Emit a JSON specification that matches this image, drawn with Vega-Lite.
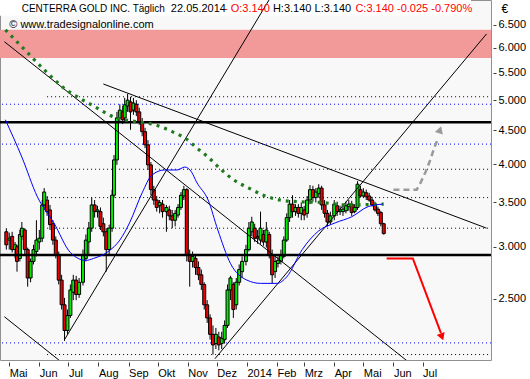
{
  "$schema": "https://vega.github.io/schema/vega-lite/v6.json",
  "width": 491,
  "height": 360,
  "autosize": {"type": "none"},
  "padding": {"left": 0, "top": 0, "right": 39, "bottom": 19},
  "background": "white",
  "config": {
    "view": {"fill": "#f8f8f8", "stroke": "#909090"},
    "text": {"font": "Liberation Sans"},
    "axis": {"labelFont": "Liberation Sans", "titleFont": "Liberation Sans", "labelOverlap": false},
    "axisX": {"labelOverlap": false},
    "axisTemporal": {"labelOverlap": false}
  },
  "datasets": {
    "ohlc": [
      {"d":"2013-04-28","o":3.16,"h":3.20,"l":2.97,"c":3.02},
      {"d":"2013-05-01","o":3.07,"h":3.15,"l":2.97,"c":3.09},
      {"d":"2013-05-04","o":3.11,"h":3.16,"l":2.94,"c":2.97},
      {"d":"2013-05-07","o":2.97,"h":3.05,"l":2.88,"c":3.02},
      {"d":"2013-05-09","o":3.00,"h":3.02,"l":2.75,"c":2.85},
      {"d":"2013-05-12","o":2.88,"h":3.18,"l":2.85,"c":3.13},
      {"d":"2013-05-14","o":3.11,"h":3.27,"l":3.07,"c":3.20},
      {"d":"2013-05-17","o":3.18,"h":3.20,"l":2.91,"c":2.97},
      {"d":"2013-05-20","o":2.97,"h":2.99,"l":2.61,"c":2.69},
      {"d":"2013-05-23","o":2.69,"h":2.88,"l":2.65,"c":2.85},
      {"d":"2013-05-26","o":2.85,"h":3.02,"l":2.82,"c":2.97},
      {"d":"2013-05-29","o":2.95,"h":3.29,"l":2.90,"c":3.07},
      {"d":"2013-06-01","o":3.05,"h":3.18,"l":2.97,"c":3.09},
      {"d":"2013-06-04","o":3.09,"h":3.53,"l":3.05,"c":3.47},
      {"d":"2013-06-06","o":3.47,"h":3.68,"l":3.41,"c":3.63},
      {"d":"2013-06-09","o":3.53,"h":3.58,"l":3.34,"c":3.39},
      {"d":"2013-06-12","o":3.41,"h":3.47,"l":3.18,"c":3.24},
      {"d":"2013-06-15","o":3.25,"h":3.29,"l":3.02,"c":3.07},
      {"d":"2013-06-18","o":3.07,"h":3.11,"l":2.88,"c":2.91},
      {"d":"2013-06-21","o":2.91,"h":2.95,"l":2.63,"c":2.67},
      {"d":"2013-06-24","o":2.67,"h":2.72,"l":2.41,"c":2.45},
      {"d":"2013-06-27","o":2.45,"h":2.51,"l":2.16,"c":2.24},
      {"d":"2013-06-30","o":2.24,"h":2.41,"l":2.21,"c":2.36},
      {"d":"2013-07-03","o":2.36,"h":2.63,"l":2.34,"c":2.58},
      {"d":"2013-07-06","o":2.56,"h":2.72,"l":2.49,"c":2.67},
      {"d":"2013-07-09","o":2.67,"h":2.71,"l":2.49,"c":2.54},
      {"d":"2013-07-12","o":2.54,"h":2.69,"l":2.51,"c":2.65},
      {"d":"2013-07-16","o":2.65,"h":2.97,"l":2.62,"c":2.91},
      {"d":"2013-07-19","o":2.88,"h":3.13,"l":2.85,"c":3.07},
      {"d":"2013-07-22","o":3.05,"h":3.27,"l":2.91,"c":3.20},
      {"d":"2013-07-25","o":3.20,"h":3.56,"l":3.16,"c":3.47},
      {"d":"2013-07-28","o":3.47,"h":3.53,"l":3.32,"c":3.39},
      {"d":"2013-07-31","o":3.39,"h":3.46,"l":3.32,"c":3.41},
      {"d":"2013-08-03","o":3.39,"h":3.44,"l":3.18,"c":3.22},
      {"d":"2013-08-06","o":3.25,"h":3.32,"l":3.11,"c":3.16},
      {"d":"2013-08-09","o":3.16,"h":3.20,"l":2.75,"c":2.97},
      {"d":"2013-08-12","o":2.97,"h":3.24,"l":2.91,"c":3.20},
      {"d":"2013-08-15","o":3.20,"h":3.66,"l":3.16,"c":3.59},
      {"d":"2013-08-17","o":3.59,"h":4.13,"l":3.56,"c":4.06},
      {"d":"2013-08-20","o":4.06,"h":4.80,"l":3.99,"c":4.70},
      {"d":"2013-08-23","o":4.70,"h":4.93,"l":4.63,"c":4.83},
      {"d":"2013-08-26","o":4.80,"h":4.90,"l":4.60,"c":4.67},
      {"d":"2013-08-28","o":4.70,"h":5.04,"l":4.63,"c":4.92},
      {"d":"2013-08-31","o":4.90,"h":5.11,"l":4.80,"c":5.00},
      {"d":"2013-09-03","o":4.97,"h":5.06,"l":4.51,"c":4.80},
      {"d":"2013-09-06","o":4.83,"h":5.04,"l":4.75,"c":4.95},
      {"d":"2013-09-09","o":4.93,"h":5.00,"l":4.73,"c":4.80},
      {"d":"2013-09-12","o":4.80,"h":4.87,"l":4.59,"c":4.63},
      {"d":"2013-09-15","o":4.63,"h":4.70,"l":4.41,"c":4.48},
      {"d":"2013-09-18","o":4.48,"h":4.54,"l":4.23,"c":4.28},
      {"d":"2013-09-21","o":4.28,"h":4.35,"l":3.92,"c":3.99},
      {"d":"2013-09-24","o":3.99,"h":4.03,"l":3.59,"c":3.66},
      {"d":"2013-09-27","o":3.66,"h":3.71,"l":3.47,"c":3.53},
      {"d":"2013-09-30","o":3.53,"h":3.58,"l":3.39,"c":3.44},
      {"d":"2013-10-03","o":3.46,"h":3.53,"l":3.37,"c":3.50},
      {"d":"2013-10-06","o":3.48,"h":3.53,"l":3.32,"c":3.39},
      {"d":"2013-10-10","o":3.39,"h":3.47,"l":3.16,"c":3.44},
      {"d":"2013-10-13","o":3.41,"h":3.46,"l":3.29,"c":3.34},
      {"d":"2013-10-16","o":3.34,"h":3.41,"l":3.20,"c":3.29},
      {"d":"2013-10-19","o":3.29,"h":3.41,"l":3.22,"c":3.37},
      {"d":"2013-10-22","o":3.35,"h":3.48,"l":3.32,"c":3.44},
      {"d":"2013-10-25","o":3.44,"h":3.63,"l":3.41,"c":3.59},
      {"d":"2013-10-28","o":3.58,"h":3.71,"l":3.53,"c":3.66},
      {"d":"2013-10-31","o":3.66,"h":3.68,"l":2.85,"c":2.91},
      {"d":"2013-11-03","o":2.91,"h":2.97,"l":2.61,"c":2.85},
      {"d":"2013-11-06","o":2.85,"h":2.95,"l":2.79,"c":2.90},
      {"d":"2013-11-09","o":2.88,"h":2.91,"l":2.72,"c":2.79},
      {"d":"2013-11-12","o":2.79,"h":2.85,"l":2.67,"c":2.72},
      {"d":"2013-11-15","o":2.72,"h":2.77,"l":2.58,"c":2.63},
      {"d":"2013-11-18","o":2.63,"h":2.65,"l":2.41,"c":2.45},
      {"d":"2013-11-21","o":2.45,"h":2.49,"l":2.30,"c":2.34},
      {"d":"2013-11-24","o":2.34,"h":2.37,"l":2.17,"c":2.21},
      {"d":"2013-11-27","o":2.21,"h":2.28,"l":2.06,"c":2.13},
      {"d":"2013-11-30","o":2.14,"h":2.26,"l":2.10,"c":2.21},
      {"d":"2013-12-03","o":2.19,"h":2.23,"l":2.09,"c":2.13},
      {"d":"2013-12-06","o":2.14,"h":2.23,"l":2.10,"c":2.18},
      {"d":"2013-12-09","o":2.17,"h":2.32,"l":2.14,"c":2.28},
      {"d":"2013-12-12","o":2.28,"h":2.63,"l":2.26,"c":2.58},
      {"d":"2013-12-15","o":2.58,"h":2.71,"l":2.49,"c":2.69},
      {"d":"2013-12-18","o":2.63,"h":2.65,"l":2.34,"c":2.41},
      {"d":"2013-12-21","o":2.45,"h":2.69,"l":2.41,"c":2.65},
      {"d":"2013-12-24","o":2.65,"h":2.82,"l":2.62,"c":2.77},
      {"d":"2013-12-27","o":2.75,"h":2.90,"l":2.69,"c":2.85},
      {"d":"2013-12-31","o":2.85,"h":3.02,"l":2.81,"c":2.97},
      {"d":"2014-01-03","o":2.97,"h":3.27,"l":2.95,"c":3.20},
      {"d":"2014-01-06","o":3.16,"h":3.33,"l":3.11,"c":3.27},
      {"d":"2014-01-09","o":3.20,"h":3.25,"l":3.05,"c":3.09},
      {"d":"2014-01-12","o":3.11,"h":3.18,"l":3.03,"c":3.09},
      {"d":"2014-01-15","o":3.07,"h":3.39,"l":3.03,"c":3.20},
      {"d":"2014-01-18","o":3.13,"h":3.18,"l":3.01,"c":3.05},
      {"d":"2014-01-21","o":3.05,"h":3.27,"l":2.99,"c":3.18},
      {"d":"2014-01-24","o":3.13,"h":3.16,"l":2.88,"c":2.91},
      {"d":"2014-01-27","o":2.91,"h":2.97,"l":2.64,"c":2.72},
      {"d":"2014-01-30","o":2.75,"h":2.91,"l":2.69,"c":2.85},
      {"d":"2014-02-02","o":2.83,"h":2.90,"l":2.79,"c":2.86},
      {"d":"2014-02-05","o":2.85,"h":2.97,"l":2.82,"c":2.91},
      {"d":"2014-02-08","o":2.90,"h":3.11,"l":2.88,"c":3.07},
      {"d":"2014-02-11","o":3.07,"h":3.37,"l":3.05,"c":3.32},
      {"d":"2014-02-14","o":3.32,"h":3.53,"l":3.27,"c":3.48},
      {"d":"2014-02-17","o":3.48,"h":3.59,"l":3.32,"c":3.39},
      {"d":"2014-02-20","o":3.39,"h":3.48,"l":3.34,"c":3.44},
      {"d":"2014-02-23","o":3.44,"h":3.48,"l":3.32,"c":3.37},
      {"d":"2014-02-26","o":3.37,"h":3.50,"l":3.29,"c":3.44},
      {"d":"2014-03-01","o":3.41,"h":3.46,"l":3.29,"c":3.35},
      {"d":"2014-03-04","o":3.37,"h":3.58,"l":3.32,"c":3.53},
      {"d":"2014-03-07","o":3.53,"h":3.72,"l":3.48,"c":3.66},
      {"d":"2014-03-10","o":3.66,"h":3.71,"l":3.51,"c":3.56},
      {"d":"2014-03-13","o":3.56,"h":3.68,"l":3.50,"c":3.63},
      {"d":"2014-03-16","o":3.61,"h":3.73,"l":3.56,"c":3.68},
      {"d":"2014-03-19","o":3.68,"h":3.71,"l":3.41,"c":3.47},
      {"d":"2014-03-22","o":3.47,"h":3.53,"l":3.32,"c":3.37},
      {"d":"2014-03-25","o":3.37,"h":3.41,"l":3.22,"c":3.27},
      {"d":"2014-03-28","o":3.27,"h":3.39,"l":3.24,"c":3.34},
      {"d":"2014-04-01","o":3.34,"h":3.53,"l":3.29,"c":3.48},
      {"d":"2014-04-04","o":3.46,"h":3.51,"l":3.34,"c":3.39},
      {"d":"2014-04-07","o":3.39,"h":3.46,"l":3.35,"c":3.41},
      {"d":"2014-04-10","o":3.39,"h":3.46,"l":3.34,"c":3.42},
      {"d":"2014-04-13","o":3.40,"h":3.51,"l":3.37,"c":3.46},
      {"d":"2014-04-16","o":3.45,"h":3.53,"l":3.40,"c":3.48},
      {"d":"2014-04-19","o":3.48,"h":3.52,"l":3.34,"c":3.38},
      {"d":"2014-04-22","o":3.39,"h":3.48,"l":3.37,"c":3.44},
      {"d":"2014-04-25","o":3.44,"h":3.77,"l":3.41,"c":3.73},
      {"d":"2014-04-28","o":3.66,"h":3.71,"l":3.56,"c":3.58},
      {"d":"2014-05-01","o":3.58,"h":3.68,"l":3.56,"c":3.63},
      {"d":"2014-05-04","o":3.62,"h":3.66,"l":3.53,"c":3.57},
      {"d":"2014-05-07","o":3.58,"h":3.62,"l":3.51,"c":3.53},
      {"d":"2014-05-10","o":3.53,"h":3.57,"l":3.45,"c":3.47},
      {"d":"2014-05-13","o":3.48,"h":3.51,"l":3.39,"c":3.41},
      {"d":"2014-05-16","o":3.42,"h":3.45,"l":3.34,"c":3.37},
      {"d":"2014-05-19","o":3.38,"h":3.40,"l":3.22,"c":3.25},
      {"d":"2014-05-22","o":3.25,"h":3.26,"l":3.13,"c":3.14}
    ],
    "ma200": [
      {"d":"2013-04-27","p":6.39},{"d":"2013-05-17","p":5.96},{"d":"2013-06-06","p":5.56},
      {"d":"2013-06-29","p":5.18},{"d":"2013-07-12","p":5.04},{"d":"2013-07-27","p":4.90},
      {"d":"2013-08-16","p":4.72},{"d":"2013-09-08","p":4.64},{"d":"2013-09-28","p":4.59},
      {"d":"2013-10-16","p":4.48},{"d":"2013-11-02","p":4.34},{"d":"2013-11-08","p":4.26},
      {"d":"2013-11-22","p":4.10},{"d":"2013-12-05","p":3.93},{"d":"2013-12-18","p":3.79},
      {"d":"2014-01-03","p":3.68},{"d":"2014-01-18","p":3.59},{"d":"2014-02-04","p":3.53},
      {"d":"2014-02-22","p":3.51},{"d":"2014-03-19","p":3.50},{"d":"2014-04-13","p":3.47},
      {"d":"2014-05-22","p":3.48}
    ],
    "ma50": [
      {"d":"2013-04-27","p":4.67},{"d":"2013-05-14","p":4.10},{"d":"2013-05-30","p":3.57},
      {"d":"2013-06-16","p":3.26},{"d":"2013-07-03","p":2.94},{"d":"2013-07-19","p":2.86},
      {"d":"2013-07-27","p":2.88},{"d":"2013-08-11","p":2.95},{"d":"2013-08-23","p":3.07},
      {"d":"2013-09-02","p":3.26},{"d":"2013-09-15","p":3.62},{"d":"2013-09-25","p":3.85},
      {"d":"2013-10-08","p":3.92},{"d":"2013-10-21","p":3.92},{"d":"2013-10-29","p":3.96},
      {"d":"2013-11-05","p":3.89},{"d":"2013-11-10","p":3.76},{"d":"2013-11-22","p":3.53},
      {"d":"2013-12-02","p":3.18},{"d":"2013-12-15","p":2.83},{"d":"2014-01-01","p":2.67},
      {"d":"2014-01-15","p":2.64},{"d":"2014-02-01","p":2.64},{"d":"2014-02-11","p":2.70},
      {"d":"2014-02-27","p":2.97},{"d":"2014-03-16","p":3.17},{"d":"2014-04-02","p":3.26},
      {"d":"2014-04-19","p":3.33},{"d":"2014-05-06","p":3.45},{"d":"2014-05-21","p":3.48}
    ],
    "trend": [
      {"id":"A","d":"2013-04-26","p":6.13},{"id":"A","d":"2014-06-16","p":2.01},
      {"id":"B","d":"2013-08-06","p":5.29},{"id":"B","d":"2014-09-05","p":3.20},
      {"id":"C","d":"2013-06-27","p":2.17},{"id":"C","d":"2014-01-26","p":7.18},
      {"id":"D","d":"2013-11-29","p":2.03},{"id":"D","d":"2014-09-05","p":6.30},
      {"id":"E","d":"2013-04-26","p":2.35},{"id":"E","d":"2013-06-25","p":2.00}
    ],
    "levelsDotted": [{"p":5.06},{"p":3.93},{"p":3.56},{"p":3.20},{"p":2.06}],
    "levelsBlue": [{"p":4.93},{"p":4.29},{"p":2.145}],
    "levelsThick": [{"p":4.63},{"p":2.914}],
    "upPath": [
      {"d":"2014-06-01","p":3.66},{"d":"2014-06-25","p":3.66},{"d":"2014-06-29","p":3.75},
      {"d":"2014-07-04","p":3.89},{"d":"2014-07-09","p":4.06},{"d":"2014-07-13","p":4.23},
      {"d":"2014-07-17","p":4.38}
    ],
    "upHead": [{"d":"2014-07-19","p":4.51}],
    "downPath": [
      {"d":"2014-05-25","p":2.88},{"d":"2014-06-21","p":2.88},{"d":"2014-07-20","p":2.22}
    ],
    "downHead": [{"d":"2014-07-21","p":2.19}]
  },
  "layer": [
    {
      "data": {"values": [{}]},
      "mark": {"type": "rect", "color": "#f29a9a", "clip": true},
      "encoding": {
        "x": {
          "datum": {"year": 2013, "month": 4, "date": 20}, "type": "temporal",
          "scale": {"domain": [{"year": 2013, "month": 4, "date": 26, "hours": 15}, {"year": 2014, "month": 9, "date": 4, "hours": 10}]},
          "axis": {
            "title": null, "grid": false, "domain": false, "offset": 2, "tickSize": 4,
            "tickColor": "#404040", "labelAlign": "left", "labelPadding": 1,
            "labelFontSize": 11, "labelColor": "#000000", "labelFlush": false,
            "labelOverlap": false, "labelBound": false,
            "tickCount": {"interval": "month", "step": 1},
            "tickOpacity": {"condition": {"test": "datum.value > datetime(2014, 6, 15)", "value": 0}, "value": 1},
            "labelExpr": "datum.value > datetime(2014, 6, 15) ? '' : (month(datum.value) == 0 ? timeFormat(datum.value, '%Y') : ['Jan','Feb','Mrz','Apr','Mai','Jun','Jul','Aug','Sep','Okt','Nov','Dez'][month(datum.value)])"
          }
        },
        "x2": {"datum": {"year": 2014, "month": 9, "date": 10}},
        "y": {
          "datum": 6.39, "type": "quantitative",
          "scale": {"type": "log", "domain": [2.021, 7.09], "nice": false, "zero": false},
          "axis": {
            "orient": "right", "grid": false, "domain": false, "offset": 2, "tickSize": 3,
            "tickColor": "#404040", "labelPadding": 2, "labelFontSize": 11, "labelColor": "#000000",
            "values": [2.5, 3, 3.5, 4, 4.5, 5, 5.5, 6, 6.5], "format": ".3f",
            "labelFlush": false, "labelOverlap": false,
            "title": "€", "titleAngle": 0, "titleAlign": "left", "titleBaseline": "top",
            "titleX": 8, "titleY": 3, "titleFontSize": 12, "titleFontWeight": "normal", "titleColor": "#000000"
          }
        },
        "y2": {"datum": 5.79}
      }
    },
    {
      "data": {"values": [{}]},
      "mark": {"type": "rect", "color": "#ffffff", "clip": true},
      "encoding": {
        "x": {"datum": {"year": 2013, "month": 4, "date": 20}, "type": "temporal"},
        "x2": {"datum": {"year": 2014, "month": 8, "date": 20}},
        "y": {"datum": 7.5, "type": "quantitative"},
        "y2": {"datum": 6.71}
      }
    },
    {
      "data": {"name": "levelsDotted"},
      "mark": {"type": "rule", "color": "#000000", "strokeWidth": 1, "strokeDash": [1, 3], "clip": true},
      "encoding": {
        "x": {"datum": {"year": 2013, "month": 6, "date": 9}, "type": "temporal"},
        "x2": {"datum": {"year": 2014, "month": 9, "date": 10}},
        "y": {"field": "p", "type": "quantitative"}
      }
    },
    {
      "data": {"name": "levelsBlue"},
      "mark": {"type": "rule", "color": "#0000ff", "strokeWidth": 1, "strokeDash": [1, 3], "clip": true},
      "encoding": {
        "y": {"field": "p", "type": "quantitative"}
      }
    },
    {
      "data": {"name": "ohlc"},
      "mark": {"type": "rule", "color": "#000000", "strokeWidth": 1, "clip": true},
      "encoding": {
        "x": {"field": "d", "type": "temporal"},
        "y": {"field": "l", "type": "quantitative"},
        "y2": {"field": "h"}
      }
    },
    {
      "data": {"name": "ohlc"},
      "mark": {"type": "bar", "width": 3, "stroke": "#000000", "strokeWidth": 1, "clip": true},
      "encoding": {
        "x": {"field": "d", "type": "temporal"},
        "y": {"field": "o", "type": "quantitative"},
        "y2": {"field": "c"},
        "fill": {"condition": {"test": "datum.c >= datum.o", "value": "#00ee00"}, "value": "#ee0000"}
      }
    },
    {
      "data": {"name": "levelsThick"},
      "mark": {"type": "rule", "color": "#000000", "strokeWidth": 2.5, "clip": true},
      "encoding": {
        "y": {"field": "p", "type": "quantitative"}
      }
    },
    {
      "data": {"name": "trend"},
      "mark": {"type": "line", "color": "#000000", "strokeWidth": 1, "clip": true},
      "encoding": {
        "x": {"field": "d", "type": "temporal"},
        "y": {"field": "p", "type": "quantitative"},
        "detail": {"field": "id"}
      }
    },
    {
      "data": {"name": "ma200"},
      "mark": {"type": "line", "color": "#1f7a1f", "strokeWidth": 3.2, "strokeDash": [3, 5], "interpolate": "monotone", "clip": true},
      "encoding": {
        "x": {"field": "d", "type": "temporal"},
        "y": {"field": "p", "type": "quantitative"}
      }
    },
    {
      "data": {"name": "ma50"},
      "mark": {"type": "line", "color": "#0000ff", "strokeWidth": 1, "interpolate": "monotone", "clip": true},
      "encoding": {
        "x": {"field": "d", "type": "temporal"},
        "y": {"field": "p", "type": "quantitative"}
      }
    },
    {
      "data": {"name": "upPath"},
      "mark": {"type": "line", "color": "#9a9a9a", "strokeWidth": 2.5, "strokeDash": [6, 4], "clip": true},
      "encoding": {
        "x": {"field": "d", "type": "temporal"},
        "y": {"field": "p", "type": "quantitative"}
      }
    },
    {
      "data": {"name": "upHead"},
      "mark": {"type": "point", "shape": "triangle-up", "filled": true, "size": 70, "color": "#9a9a9a", "opacity": 1, "angle": 18},
      "encoding": {
        "x": {"field": "d", "type": "temporal"},
        "y": {"field": "p", "type": "quantitative"}
      }
    },
    {
      "data": {"name": "downPath"},
      "mark": {"type": "line", "color": "#ff0000", "strokeWidth": 2, "clip": true},
      "encoding": {
        "x": {"field": "d", "type": "temporal"},
        "y": {"field": "p", "type": "quantitative"}
      }
    },
    {
      "data": {"name": "downHead"},
      "mark": {"type": "point", "shape": "triangle-down", "filled": true, "size": 70, "color": "#ff0000", "opacity": 1, "angle": -21},
      "encoding": {
        "x": {"field": "d", "type": "temporal"},
        "y": {"field": "p", "type": "quantitative"}
      }
    },
    {
      "data": {"values": [{}]},
      "mark": {"type": "text", "text": "CENTERRA GOLD INC. Täglich", "align": "left", "baseline": "alphabetic", "fontSize": 10, "color": "#000000"},
      "encoding": {
        "x": {"datum": {"year": 2013, "month": 5, "date": 13, "hours": 20}, "type": "temporal"},
        "y": {"datum": 6.79, "type": "quantitative"}
      }
    },
    {
      "data": {"values": [{}]},
      "mark": {"type": "text", "text": "22.05.2014", "align": "left", "baseline": "alphabetic", "fontSize": 11, "color": "#000000"},
      "encoding": {
        "x": {"datum": {"year": 2013, "month": 10, "date": 14, "hours": 14}, "type": "temporal"},
        "y": {"datum": 6.79, "type": "quantitative"}
      }
    },
    {
      "data": {"values": [{}]},
      "mark": {"type": "text", "text": "- O:3.140", "align": "left", "baseline": "alphabetic", "fontSize": 11, "color": "#ff0000"},
      "encoding": {
        "x": {"datum": {"year": 2013, "month": 12, "date": 8, "hours": 7}, "type": "temporal"},
        "y": {"datum": 6.79, "type": "quantitative"}
      }
    },
    {
      "data": {"values": [{}]},
      "mark": {"type": "text", "text": "H:3.140 L:3.140", "align": "left", "baseline": "alphabetic", "fontSize": 11, "color": "#000000"},
      "encoding": {
        "x": {"datum": {"year": 2014, "month": 1, "date": 27, "hours": 19}, "type": "temporal"},
        "y": {"datum": 6.79, "type": "quantitative"}
      }
    },
    {
      "data": {"values": [{}]},
      "mark": {"type": "text", "text": "C:3.140 -0.025 -0.790%", "align": "left", "baseline": "alphabetic", "fontSize": 11, "color": "#ff0000"},
      "encoding": {
        "x": {"datum": {"year": 2014, "month": 4, "date": 22, "hours": 19}, "type": "temporal"},
        "y": {"datum": 6.79, "type": "quantitative"}
      }
    },
    {
      "data": {"values": [{}]},
      "mark": {"type": "text", "text": "© www.tradesignalonline.com", "align": "left", "baseline": "alphabetic", "fontSize": 11, "color": "#000000"},
      "encoding": {
        "x": {"datum": {"year": 2013, "month": 5, "date": 1}, "type": "temporal"},
        "y": {"datum": 6.43, "type": "quantitative"}
      }
    }
  ]
}
